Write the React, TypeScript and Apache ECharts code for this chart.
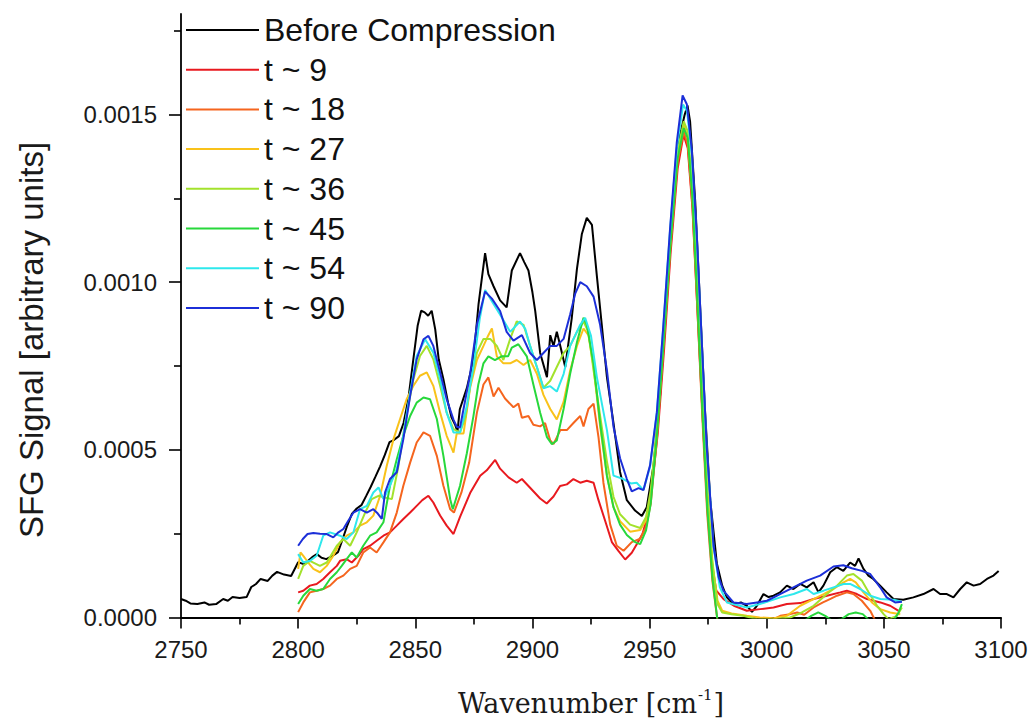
import React, { useEffect, useRef } from "react";
import * as echarts from "echarts";

// Values are in units of 1e-4 (arbitrary SFG units); x = wavenumber [cm-1]
const UNIT = 1e-4;

const seriesNames = ["Before Compression", "t ~ 9", "t ~ 18", "t ~ 27", "t ~ 36", "t ~ 45", "t ~ 54", "t ~ 90"];
const seriesColors = ["#000000", "#e8191f", "#f5651e", "#f9c21a", "#a3e22c", "#27d83b", "#2ee8ec", "#1c2fd8"];

const before: number[][] = [
  [2750,0.55],[2752,0.50],[2754,0.42],[2757,0.40],[2760,0.45],[2762,0.38],[2765,0.40],[2768,0.55],[2770,0.50],[2772,0.61],[2775,0.58],[2778,0.61],[2780,0.91],[2782,1.00],[2784,1.15],[2787,1.09],[2789,1.25],[2791,1.36],[2794,1.28],[2797,1.24],[2800,1.65],[2802,1.60],[2804,1.68],[2806,1.80],[2808,1.89],[2810,1.78],[2812,1.74],[2815,1.85],[2817,1.95],[2819,2.34],[2821,2.75],[2823,3.10],[2825,3.25],[2827,3.35],[2829,3.62],[2831,3.90],[2833,4.20],[2835,4.51],[2837,4.85],[2839,5.23],[2841,5.30],[2843,5.41],[2845,5.80],[2847,6.50],[2849,7.61],[2851,8.70],[2852.5,9.15],[2854,9.10],[2855.5,9.00],[2857,9.15],[2858.5,8.60],[2860,7.70],[2862,7.11],[2864,6.40],[2865.5,5.96],[2867,5.75],[2868,5.55],[2869,6.21],[2872,6.84],[2874.8,7.68],[2877,9.35],[2879.8,10.87],[2881.2,10.24],[2883.4,9.88],[2886.2,9.46],[2889,9.25],[2891.2,10.35],[2894.7,10.87],[2896.5,10.60],[2898.3,10.35],[2900,9.70],[2901.2,9.14],[2903.3,7.89],[2906.2,7.17],[2907.6,8.42],[2909,8.10],[2910.4,8.52],[2911.9,8.10],[2914,7.47],[2916.8,8.94],[2919,10.40],[2921.1,11.44],[2923.2,11.92],[2925.4,11.71],[2927.5,10.19],[2929.6,8.73],[2931.8,7.17],[2934.6,5.80],[2937.4,4.34],[2940.3,3.50],[2943.8,3.19],[2946.7,3.03],[2948.8,3.29],[2951.7,4.54],[2954.5,6.64],[2957.4,9.77],[2960.2,12.60],[2962.5,14.30],[2963.5,14.55],[2965,15.0],[2966.2,15.27],[2967.3,14.79],[2969.5,12.39],[2971.6,9.25],[2973.7,6.12],[2975.9,3.50],[2978.7,1.62],[2981,0.95],[2983,0.60],[2985,0.45],[2987.3,0.42],[2989,0.45],[2991.5,0.35],[2993.7,0.17],[2995.8,0.35],[2998.6,0.70],[3000.8,0.61],[3002.9,0.65],[3005.7,0.75],[3008.6,0.95],[3011.4,0.85],[3014.3,1.00],[3017.1,0.90],[3020,1.05],[3022.1,0.75],[3024.2,0.95],[3027.1,1.35],[3029.9,1.50],[3032.7,1.39],[3035.6,1.64],[3037.7,1.54],[3039.2,1.76],[3041.3,1.45],[3043.4,1.25],[3045.5,1.15],[3048.4,0.95],[3051.2,0.75],[3054.1,0.55],[3058.3,0.53],[3062.6,0.60],[3066.9,0.70],[3071.2,0.85],[3074,0.70],[3076.9,0.70],[3079.7,0.60],[3082.6,0.85],[3085.4,1.05],[3088.3,0.95],[3091.1,1.00],[3094,1.15],[3096.8,1.25],[3099,1.39]
];

const t9: number[][] = [
  [2800,0.75],[2802.2,0.80],[2805,0.95],[2807.9,1.00],[2810.7,1.15],[2813.6,1.35],[2816.5,1.54],[2817.9,1.69],[2820.7,1.74],[2822.9,1.64],[2825.7,1.84],[2827.8,2.04],[2830.7,2.14],[2833.5,2.29],[2836.4,2.44],[2839.2,2.54],[2842.1,2.74],[2844.9,2.94],[2847.8,3.13],[2850.6,3.33],[2853,3.50],[2855.6,3.63],[2857.7,3.43],[2860.6,3.04],[2863.4,2.74],[2866.3,2.49],[2869.1,3.00],[2873.4,3.71],[2877.7,4.23],[2880.5,4.39],[2884.1,4.70],[2886.2,4.44],[2889.8,4.18],[2893.3,4.02],[2895.5,4.13],[2899,3.87],[2903.3,3.55],[2906.1,3.40],[2909,3.61],[2911.8,3.92],[2914.7,3.97],[2917.5,4.13],[2920.4,4.02],[2923.2,4.08],[2926.1,4.02],[2928.2,3.50],[2931.1,2.87],[2933.9,2.25],[2936.7,1.99],[2939.6,1.73],[2942.4,1.93],[2944.6,2.19],[2947,2.50],[2949,3.00],[2951,3.90],[2953.5,5.50],[2956.2,8.00],[2959,10.90],[2962,13.40],[2964.5,14.40],[2966.3,14.00],[2968.3,12.20],[2970.4,9.20],[2972.5,6.20],[2974.6,3.40],[2976.8,1.50],[2978.5,0.80],[2981.6,0.55],[2986,0.35],[2991.5,0.20],[2997.2,0.25],[3002.9,0.30],[3008.6,0.40],[3014.3,0.43],[3020,0.55],[3025.7,0.65],[3031.4,0.75],[3034.2,0.80],[3038.5,0.70],[3042.8,0.55],[3048.5,0.45],[3052.7,0.35],[3056.3,0.20]
];

const t18: number[][] = [
  [2800,0.16],[2802.2,0.45],[2805,0.75],[2807.9,0.80],[2810.7,0.85],[2813.6,0.95],[2816.5,1.15],[2819.3,1.25],[2822.2,1.45],[2825,1.54],[2827.8,1.94],[2830.7,2.09],[2833.5,1.94],[2836.4,2.24],[2839.2,2.54],[2842.1,3.13],[2844.9,3.93],[2847.8,4.62],[2850.6,5.22],[2853.5,5.52],[2856.3,5.42],[2859.2,4.82],[2862,3.93],[2864.9,3.23],[2866.5,3.13],[2869.7,3.73],[2873,4.62],[2876.3,6.11],[2879.1,6.95],[2881.2,7.16],[2883.4,6.59],[2885.5,6.85],[2888.3,6.53],[2891.9,6.27],[2894,6.38],[2895.5,5.96],[2898.3,6.01],[2900.4,5.75],[2903.3,5.70],[2905.4,5.80],[2907.6,5.28],[2909,5.17],[2911.9,5.59],[2914.7,5.59],[2917.5,5.80],[2920.4,6.01],[2921.8,5.70],[2923.9,6.22],[2926.1,6.38],[2928.2,5.38],[2930.3,4.02],[2933.2,2.77],[2936,2.14],[2938.9,1.99],[2942.4,2.25],[2946,2.35],[2948.5,2.70],[2950.5,3.40],[2953.1,5.30],[2956,8.10],[2959,11.10],[2962,13.60],[2964.6,14.50],[2966.3,14.10],[2968.3,12.30],[2970.4,9.20],[2972.5,6.00],[2974.6,3.10],[2976.8,1.10],[2979,-0.10],[2981,-0.60],[2990,-0.60],[2998,-0.30],[3003,-0.05],[3005.8,0.05],[3010,0.10],[3013,0.15],[3016,0.08],[3020,0.30],[3024,0.45],[3027,0.55],[3030,0.65],[3034.2,0.75],[3037,0.70],[3040.6,0.50],[3044.2,0.20],[3046,-0.05],[3050,-0.30],[3056,-0.30]
];

const t27: number[][] = [
  [2800,1.45],[2801,1.94],[2802.2,1.84],[2804.3,1.64],[2806.5,1.45],[2809.3,1.35],[2812.2,1.54],[2815,1.84],[2817.9,2.24],[2820.7,2.44],[2823.6,2.54],[2826.4,2.74],[2829.3,2.84],[2832.1,3.04],[2835,3.63],[2837.8,4.52],[2840.7,5.32],[2843.5,5.92],[2846.3,6.51],[2849.2,6.91],[2852,7.21],[2854.9,7.31],[2857.7,6.91],[2860.6,6.11],[2863.4,5.42],[2866.3,4.92],[2867.7,5.49],[2870.6,5.49],[2873.4,6.85],[2876.3,7.68],[2879.1,8.10],[2881.2,8.42],[2882.7,8.62],[2884.8,7.79],[2887.6,7.58],[2890.5,7.58],[2893.3,7.68],[2896.2,7.53],[2899,7.68],[2901.9,7.27],[2904.7,6.64],[2907.6,6.22],[2910.4,5.91],[2913.3,6.43],[2916.1,7.37],[2919,8.10],[2921.8,8.62],[2923.9,8.42],[2926.1,7.47],[2928.9,5.70],[2931.8,4.23],[2934.6,3.29],[2937.4,2.87],[2941.7,2.56],[2946,2.61],[2948.5,2.90],[2950.5,3.60],[2953.1,5.50],[2956,8.30],[2959,11.30],[2962,13.80],[2964.6,14.70],[2966.3,14.30],[2968.3,12.60],[2970.4,9.60],[2972.5,6.60],[2974.6,3.80],[2976.8,1.60],[2979,0.50],[2981,0.20],[2985,0.12],[2991.5,0.05],[2997,0.00],[3003,-0.02],[3008.6,0.05],[3014.3,0.35],[3020,0.55],[3024.3,0.70],[3028.5,0.85],[3032.8,1.05],[3035.6,1.15],[3038,1.05],[3041.3,0.75],[3044.9,0.45],[3048.5,0.25],[3052.7,0.15],[3057,0.10]
];

const t36: number[][] = [
  [2800,1.15],[2802.2,1.54],[2805,1.69],[2809.3,1.54],[2812.2,1.64],[2816.5,2.14],[2819.3,2.34],[2822.2,2.14],[2825,2.54],[2828.6,3.13],[2831.4,3.53],[2834.3,3.63],[2837.1,3.58],[2840,3.53],[2842.8,4.52],[2845.7,5.82],[2849.2,7.11],[2852,7.80],[2854.9,8.10],[2857.7,7.70],[2860.6,6.91],[2863.4,6.11],[2866.3,5.62],[2869.1,5.52],[2871.5,6.00],[2873.4,6.90],[2876.3,7.90],[2879.1,8.31],[2882,8.31],[2884.8,8.10],[2887.6,7.68],[2890.5,8.31],[2893.3,8.83],[2896.2,8.73],[2899,8.10],[2901.9,7.47],[2904.7,6.85],[2907.6,7.06],[2910.4,7.47],[2913.3,7.89],[2916.1,8.10],[2919,8.52],[2921.8,8.83],[2923.9,8.52],[2926.1,7.37],[2928.9,6.01],[2931.8,4.65],[2934.6,3.60],[2937.4,3.08],[2941.7,2.77],[2946,2.67],[2948.5,3.00],[2950.5,3.80],[2953.1,5.60],[2956,8.40],[2959,11.40],[2962,13.90],[2964.6,14.80],[2966.3,14.50],[2968.3,12.80],[2970.4,9.80],[2972.5,6.70],[2974.6,3.90],[2976.8,1.70],[2979,0.40],[2981,0.15],[2985,0.10],[2990,0.05],[2996,-0.05],[3003,-0.05],[3010,0.00],[3015,0.15],[3020,0.35],[3025.7,0.70],[3030,0.95],[3034.2,1.25],[3037,1.30],[3040.6,1.10],[3043.5,0.75],[3047.1,0.35],[3049.9,0.10],[3052,-0.05],[3055.6,0.05],[3057.7,0.30]
];

const t45: number[][] = [
  [2800,0.40],[2802.2,0.65],[2805,0.85],[2807.9,0.80],[2810.7,0.85],[2813.6,1.15],[2816.5,1.35],[2818.6,1.54],[2820.7,1.74],[2822.9,1.94],[2825,1.79],[2827.8,2.14],[2830.7,2.44],[2833.5,2.54],[2836.4,2.84],[2839.2,3.93],[2842.1,4.72],[2844.9,5.42],[2847.8,6.01],[2850.6,6.41],[2853.5,6.56],[2856.3,6.51],[2859.2,5.92],[2862,4.82],[2864.9,3.53],[2866,3.23],[2869.1,3.93],[2872,4.90],[2874.8,6.00],[2876.9,6.95],[2879.1,7.58],[2881.2,7.79],[2884,7.68],[2886.8,7.79],[2889.6,7.79],[2891.2,8.05],[2894,8.15],[2897.6,7.79],[2900.4,6.95],[2903.3,6.11],[2906.2,5.38],[2908.3,5.17],[2910.4,5.28],[2913.3,6.22],[2916.1,7.27],[2919,8.21],[2921.8,8.94],[2923.2,8.73],[2926.1,7.58],[2928.9,5.80],[2931.8,4.23],[2934.6,3.29],[2937.4,2.77],[2940.3,2.46],[2943.8,2.25],[2946,2.19],[2948.5,2.60],[2950.5,3.40],[2953.1,5.40],[2956,8.20],[2959,11.20],[2962,13.70],[2964.6,14.60],[2966.3,14.30],[2968.3,12.50],[2970.4,9.40],[2972.5,6.20],[2974.6,3.30],[2976.8,1.20],[2979,-0.10],[2981,-0.60],[2990,-0.80],[3000,-0.60],[3010,-0.30],[3016,-0.10],[3019,0.05],[3022,0.15],[3025,0.05],[3028,-0.10],[3032,-0.05],[3035,0.10],[3038,0.15],[3041,0.10],[3044,-0.10],[3050,-0.30],[3054,-0.10],[3056.3,0.15],[3057.7,0.40]
];

const t54: number[][] = [
  [2800,1.89],[2802.2,1.64],[2805,1.69],[2807.9,1.84],[2810.7,2.44],[2813.6,2.54],[2817.9,2.44],[2820.7,2.34],[2823.6,2.54],[2826.4,3.23],[2829.3,3.33],[2832.1,3.73],[2834.3,3.88],[2836.4,3.53],[2839.2,3.93],[2842.1,4.43],[2844.9,5.42],[2847.8,6.71],[2850.6,7.80],[2854.2,8.30],[2857.7,7.90],[2860.6,7.11],[2863.4,6.11],[2866.3,5.52],[2869.1,5.52],[2872,6.31],[2874.8,7.50],[2877.5,8.90],[2879.8,9.77],[2883.4,9.35],[2887,8.94],[2890.5,8.52],[2894.7,8.83],[2897,8.60],[2899,8.10],[2901.9,7.47],[2904.7,6.84],[2907.6,6.90],[2910.4,6.74],[2913.3,7.26],[2916.1,8.10],[2920.4,8.73],[2922.5,8.94],[2925,8.40],[2927.5,7.17],[2931.8,5.59],[2934.6,4.23],[2938.8,4.13],[2942,4.00],[2944.5,4.02],[2947.4,3.80],[2950.2,4.50],[2953.1,6.10],[2955.9,8.70],[2958.8,11.60],[2961.6,14.00],[2964.3,15.30],[2966,15.10],[2968,13.80],[2970.2,11.20],[2972.3,8.10],[2974.4,5.00],[2977.3,2.10],[2980,0.90],[2983,0.45],[2991.5,0.30],[2997,0.40],[3005.8,0.60],[3011.5,0.70],[3017.1,0.85],[3020,0.70],[3024.3,0.80],[3028.5,0.90],[3032.8,1.00],[3035.6,1.00],[3039.9,0.85],[3044.2,0.65],[3048.5,0.55],[3054.2,0.53],[3057.7,0.47]
];

const t90: number[][] = [
  [2800,2.14],[2802,2.34],[2804,2.49],[2806.5,2.52],[2809.3,2.50],[2812.2,2.49],[2815,2.39],[2817.2,2.54],[2819.3,2.64],[2821,2.84],[2823.6,3.13],[2826.4,3.23],[2829.3,3.13],[2832.1,3.23],[2834,3.10],[2835.7,2.94],[2837.1,3.73],[2839.2,4.13],[2842.1,4.33],[2844.9,5.32],[2847.8,6.61],[2850.6,7.70],[2853.5,8.30],[2855.6,8.40],[2857.7,8.10],[2860.6,7.31],[2863.4,6.51],[2866.3,5.90],[2867.7,5.69],[2869.1,5.67],[2870.6,6.22],[2873.4,7.26],[2876.3,8.73],[2879.8,9.72],[2882.7,9.51],[2886.2,9.14],[2889,8.52],[2891.9,8.26],[2895.5,8.42],[2899,7.89],[2901.9,7.68],[2904.7,7.89],[2907.6,8.10],[2910.4,8.10],[2913.3,8.31],[2916.1,9.04],[2918.3,9.67],[2920.4,10.00],[2923.2,9.88],[2926.1,9.57],[2928.9,8.73],[2931.8,7.37],[2934.6,5.69],[2937.4,4.75],[2940.3,4.13],[2942.4,3.76],[2945.3,3.86],[2947.4,3.80],[2950.2,4.54],[2953.1,6.11],[2955.9,8.73],[2958.8,11.65],[2961.6,14.16],[2964.1,15.57],[2965.9,15.31],[2968,13.96],[2970.2,11.34],[2972.3,8.21],[2974.4,5.07],[2977.3,2.14],[2979.5,1.20],[2981.5,0.80],[2985.8,0.45],[2991.5,0.40],[2995.8,0.45],[3000.1,0.50],[3005.7,0.70],[3011.4,0.90],[3017.1,1.10],[3022.8,1.25],[3028.5,1.52],[3032.7,1.56],[3036.3,1.47],[3040.6,1.39],[3044.1,1.30],[3048.4,0.90],[3051.2,0.60],[3054.8,0.45],[3057.7,0.47]
];

const allSeries = [before, t9, t18, t27, t36, t45, t54, t90];

const xTicks = { min: 2750, max: 3100, interval: 50 };
const yMajorTicks = [0, 0.0005, 0.001, 0.0015];
const yMinorTicks = [0.00025, 0.00075, 0.00125, 0.00175];
const yMax = 0.0018;

const SANS = "'Liberation Sans', Arial, sans-serif";
const SERIF = "'DejaVu Serif', serif";

export default function App() {
  const ref = useRef<HTMLDivElement>(null);
  useEffect(() => {
    if (!ref.current) return;
    const chart = echarts.init(ref.current, undefined, { renderer: "svg" });
    const axisColor = "#000";
    chart.setOption({
      animation: false,
      backgroundColor: "#ffffff",
      grid: { left: 181, right: 33, top: 14, bottom: 103.5, containLabel: false },
      legend: {
        orient: "vertical",
        left: 186,
        top: 13,
        padding: 0,
        itemWidth: 73,
        itemHeight: 14,
        itemGap: 5.7,
        icon: "path://M0,6 L73,6 L73,8 L0,8 Z",
        data: seriesNames,
        textStyle: { fontSize: 32, fontFamily: SANS, color: "#111", lineHeight: 34 },
        selectedMode: false,
      },
      xAxis: {
        type: "value",
        min: xTicks.min,
        max: xTicks.max,
        interval: xTicks.interval,
        axisLine: { show: true, onZero: false, lineStyle: { color: axisColor, width: 1.8 } },
        axisTick: { show: true, inside: false, length: 11, lineStyle: { color: axisColor, width: 1.6 } },
        minorTick: { show: true, splitNumber: 2, length: 7, lineStyle: { color: axisColor, width: 1.6 } },
        splitLine: { show: false },
        minorSplitLine: { show: false },
        axisLabel: { fontSize: 24, fontFamily: SANS, color: "#1a1a1a", margin: 20, formatter: (v: number) => String(v) },
        name: "{a|Wavenumber [cm}{s|-1}{a|]}",
        nameLocation: "middle",
        nameGap: 70,
        nameTextStyle: {
          rich: {
            a: { fontFamily: SERIF, fontSize: 27, color: "#1a1a1a", lineHeight: 32 },
            s: { fontFamily: SERIF, fontSize: 15, color: "#1a1a1a", verticalAlign: "top", lineHeight: 32, padding: [0, 1, 0, 1] },
          },
        },
      },
      yAxis: [
        {
          type: "value",
          min: 0,
          max: yMax,
          position: "left",
          axisLine: { show: true, onZero: false, lineStyle: { color: axisColor, width: 1.8 } },
          axisTick: { show: true, inside: false, length: 12, customValues: yMajorTicks, lineStyle: { color: axisColor, width: 1.6 } },
          splitLine: { show: false },
          axisLabel: {
            fontSize: 24,
            fontFamily: SANS,
            color: "#1a1a1a",
            margin: 24,
            customValues: yMajorTicks,
            formatter: (v: number) => v.toFixed(4),
          },
        },
        {
          type: "value",
          min: 0,
          max: yMax,
          position: "left",
          offset: 0,
          axisLine: { show: false },
          axisTick: { show: true, inside: false, length: 7, customValues: yMinorTicks, lineStyle: { color: axisColor, width: 1.6 } },
          axisLabel: { show: false },
          splitLine: { show: false },
        },
      ],
      series: allSeries.map((d, i) => ({
        name: seriesNames[i],
        type: "line",
        yAxisIndex: 0,
        data: d.map(([x, y]) => [x, y * UNIT]),
        showSymbol: false,
        symbol: "none",
        clip: true,
        lineStyle: { color: seriesColors[i], width: 2 },
        itemStyle: { color: seriesColors[i] },
        z: 2,
      })),
      graphic: [
        {
          type: "text",
          x: 31,
          y: 340,
          rotation: Math.PI / 2,
          style: {
            text: "SFG Signal [arbitrary units]",
            fontSize: 33,
            fontFamily: SANS,
            fill: "#1a1a1a",
            align: "center",
            verticalAlign: "middle",
          },
        },
      ],
    });
    return () => chart.dispose();
  }, []);
  return <div ref={ref} style={{ position: "fixed", left: 0, top: 0, width: 1034, height: 722 }} />;
}
